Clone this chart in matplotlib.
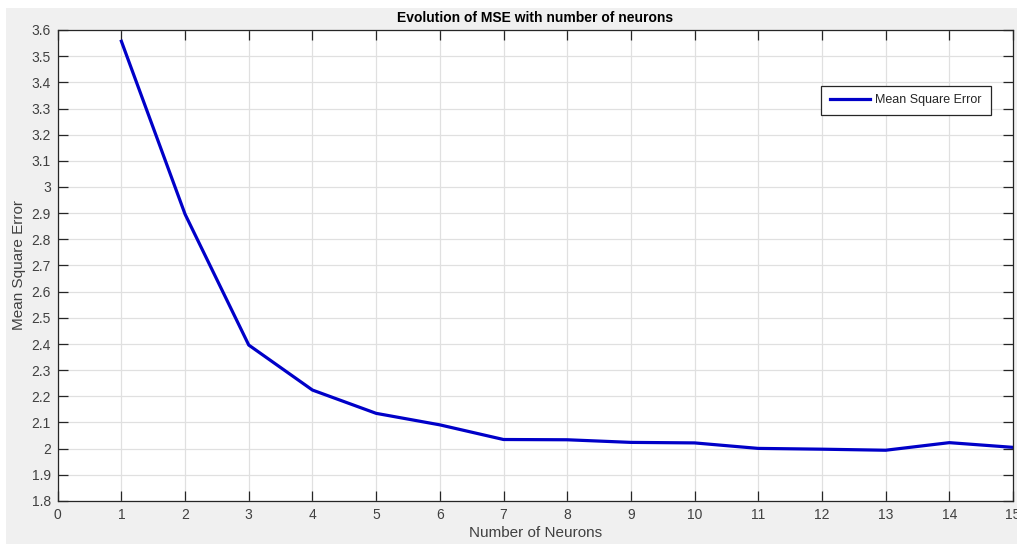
import matplotlib.pyplot as plt
from matplotlib.patches import Rectangle
import numpy as np

plt.rcParams['font.family'] = ['Liberation Sans', 'DejaVu Sans']

# MSE for each network size
neurons = [1, 2, 3, 4, 5, 6, 7, 8, 9, 10, 11, 12, 13, 14, 15]
mse = [3.557, 2.896, 2.396, 2.224, 2.135, 2.091, 2.035, 2.034, 2.024,
       2.022, 2.001, 1.998, 1.994, 2.023, 2.005]
x_ticks = list(range(0, 16))
y_ticks = [1.8, 1.9, 2.0, 2.1, 2.2, 2.3, 2.4, 2.5, 2.6, 2.7, 2.8, 2.9,
           3.0, 3.1, 3.2, 3.3, 3.4, 3.5, 3.6]
y_labels = ['1.8', '1.9', '2', '2.1', '2.2', '2.3', '2.4', '2.5', '2.6', '2.7',
            '2.8', '2.9', '3', '3.1', '3.2', '3.3', '3.4', '3.5', '3.6']

W, H = 1017, 544
fig = plt.figure(figsize=(W / 100, H / 100), dpi=100, facecolor='white')
# grey MATLAB figure panel, white strip at top and left
fig.patches.append(Rectangle((6 / W, 0), 1, (H - 8) / H, transform=fig.transFigure,
                             facecolor='#f0f0f0', edgecolor='none', zorder=-10))

ax = fig.add_axes([57.7 / W, (H - 501) / H, (1013 - 57.7) / W, (501 - 30) / H])
ax.plot(neurons, mse, color='#0000c8', linewidth=2.3, label='Mean Square Error',
        solid_joinstyle='round')

ax.set_xlim(0, 15)
ax.set_ylim(1.8, 3.6)
ax.set_xticks(x_ticks)
ax.set_yticks(y_ticks)
ax.set_yticklabels(y_labels)
ax.grid(True, color='#e0e0e0', linewidth=0.9)
ax.set_axisbelow(True)
ax.tick_params(direction='in', length=7, width=0.9, color='#262626',
               top=True, right=True, labelsize=10, labelcolor='#404040', pad=5)
for s in ax.spines.values():
    s.set_color('#262626')
    s.set_linewidth(0.9)

ax.set_title('Evolution of MSE with number of neurons', fontsize=10,
             fontweight='bold', pad=6)
ax.set_xlabel('Number of Neurons', fontsize=11, color='#404040', labelpad=3)
ax.set_ylabel('Mean Square Error', fontsize=11, color='#404040', labelpad=4)

leg = ax.legend(loc='upper right', bbox_to_anchor=(0.983, 0.895), fontsize=9,
                fancybox=False, framealpha=1, edgecolor='#262626',
                handlelength=3.2, borderpad=0.7, handletextpad=0.45)
leg.get_frame().set_linewidth(0.9)
for t in leg.get_texts():
    t.set_color('#262626')

fig.savefig('out.png', dpi=100)
